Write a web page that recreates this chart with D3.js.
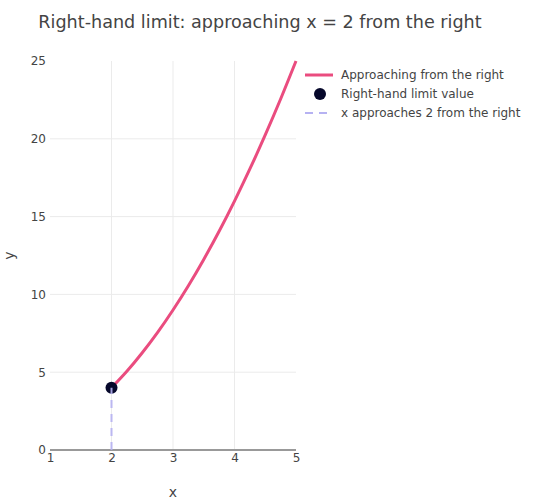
<!DOCTYPE html>
<html>
<head>
<meta charset="utf-8">
<script src="https://cdn.jsdelivr.net/npm/d3@7"></script>
<style>
  body { margin: 0; background: #fff; }
  svg { font-family: "DejaVu Sans", Verdana, sans-serif; }
</style>
</head>
<body>
<div id="chart"></div>
<script>
// curve values
var curveX = [2, 2.25, 2.5, 2.75, 3, 3.25, 3.5, 3.75, 4, 4.25, 4.5, 4.75, 5];
var curveY = [4, 5.06, 6.25, 7.56, 9, 10.56, 12.25, 14.06, 16, 18.06, 20.25, 22.56, 25];
var limitPoint = [2, 4];
var guideX = [2, 2];
var guideY = [0, 4];
var xTicks = [1, 2, 3, 4, 5];
var yTicks = [0, 5, 10, 15, 20, 25];
var legendLabels = ["Approaching from the right", "Right-hand limit value", "x approaches 2 from the right"];

var width = 539, height = 500;
var margin = { top: 61, right: 243, bottom: 50, left: 50 };

var svg = d3.select("#chart").append("svg")
    .attr("width", width)
    .attr("height", height);

var x = d3.scaleLinear().domain([1, 5]).range([margin.left, width - margin.right]);
var y = d3.scaleLinear().domain([0, 25]).range([height - margin.bottom, margin.top]);

// grid
svg.append("g")
    .selectAll("line.vg")
    .data(xTicks.filter(function (d) { return d > 1 && d < 5; }))
    .enter().append("line")
    .attr("x1", function (d) { return x(d); })
    .attr("x2", function (d) { return x(d); })
    .attr("y1", y(0))
    .attr("y2", y(25))
    .attr("stroke", "#ebebeb")
    .attr("stroke-width", 1);

svg.append("g")
    .selectAll("line.hg")
    .data(yTicks.filter(function (d) { return d > 0 && d < 25; }))
    .enter().append("line")
    .attr("x1", x(1))
    .attr("x2", x(5))
    .attr("y1", function (d) { return y(d); })
    .attr("y2", function (d) { return y(d); })
    .attr("stroke", "#ebebeb")
    .attr("stroke-width", 1);

// zero line
svg.append("line")
    .attr("x1", x(1)).attr("x2", x(5))
    .attr("y1", y(0)).attr("y2", y(0))
    .attr("stroke", "#999")
    .attr("stroke-width", 2);

// axes (tick labels only)
var xAxis = svg.append("g")
    .attr("transform", "translate(0," + y(0) + ")")
    .call(d3.axisBottom(x).tickValues(xTicks).tickFormat(d3.format("d")).tickSize(0).tickPadding(3));
var yAxis = svg.append("g")
    .attr("transform", "translate(" + x(1) + ",0)")
    .call(d3.axisLeft(y).tickValues(yTicks).tickFormat(d3.format("d")).tickSize(0).tickPadding(4));
[xAxis, yAxis].forEach(function (a) {
    a.select(".domain").remove();
    a.selectAll("text")
        .attr("fill", "#444")
        .style("font-size", "12px")
        .style("font-family", "'DejaVu Sans', Verdana, sans-serif");
});

// axis titles
svg.append("text")
    .attr("x", x(3)).attr("y", 497)
    .attr("text-anchor", "middle")
    .attr("fill", "#444")
    .style("font-size", "14px")
    .text("x");
svg.append("text")
    .attr("transform", "translate(14," + y(12.5) + ")rotate(-90)")
    .attr("text-anchor", "middle")
    .attr("fill", "#444")
    .style("font-size", "14px")
    .text("y");

// title
svg.append("text")
    .attr("x", 260).attr("y", 28)
    .attr("text-anchor", "middle")
    .attr("fill", "#444")
    .style("font-size", "17.6px")
    .text("Right-hand limit: approaching x = 2 from the right");

// curve
var line = d3.line()
    .x(function (d) { return x(d[0]); })
    .y(function (d) { return y(d[1]); })
    .curve(d3.curveCatmullRom);

svg.append("path")
    .datum(d3.zip(curveX, curveY))
    .attr("d", line)
    .attr("fill", "none")
    .attr("stroke", "#ea4c7f")
    .attr("stroke-width", 3);

// limit marker
svg.append("circle")
    .attr("cx", x(limitPoint[0]))
    .attr("cy", y(limitPoint[1]))
    .attr("r", 6)
    .attr("fill", "#06082b");

// dashed guide
svg.append("path")
    .datum(d3.zip(guideX, guideY))
    .attr("d", d3.line().x(function (d) { return x(d[0]); }).y(function (d) { return y(d[1]); }))
    .attr("stroke", "#b6b2f2")
    .attr("stroke-width", 2)
    .attr("stroke-dasharray", "8,6")
    .attr("opacity", 0.9);

// legend
var legend = svg.append("g").attr("transform", "translate(305,75)");
var rows = legend.selectAll("g")
    .data(legendLabels)
    .enter().append("g")
    .attr("transform", function (d, i) { return "translate(0," + i * 19 + ")"; });

rows.append("text")
    .attr("x", 36)
    .attr("dy", "0.35em")
    .attr("fill", "#444")
    .style("font-size", "12px")
    .text(function (d) { return d; });

rows.filter(function (d, i) { return i === 0; })
    .append("line")
    .attr("x1", 0).attr("x2", 28)
    .attr("stroke", "#ea4c7f").attr("stroke-width", 3);
rows.filter(function (d, i) { return i === 1; })
    .append("circle")
    .attr("cx", 15).attr("r", 6)
    .attr("fill", "#06082b");
rows.filter(function (d, i) { return i === 2; })
    .append("line")
    .attr("x1", 0).attr("x2", 28)
    .attr("stroke", "#b6b2f2").attr("stroke-width", 2)
    .attr("stroke-dasharray", "8,6");
</script>
</body>
</html>
